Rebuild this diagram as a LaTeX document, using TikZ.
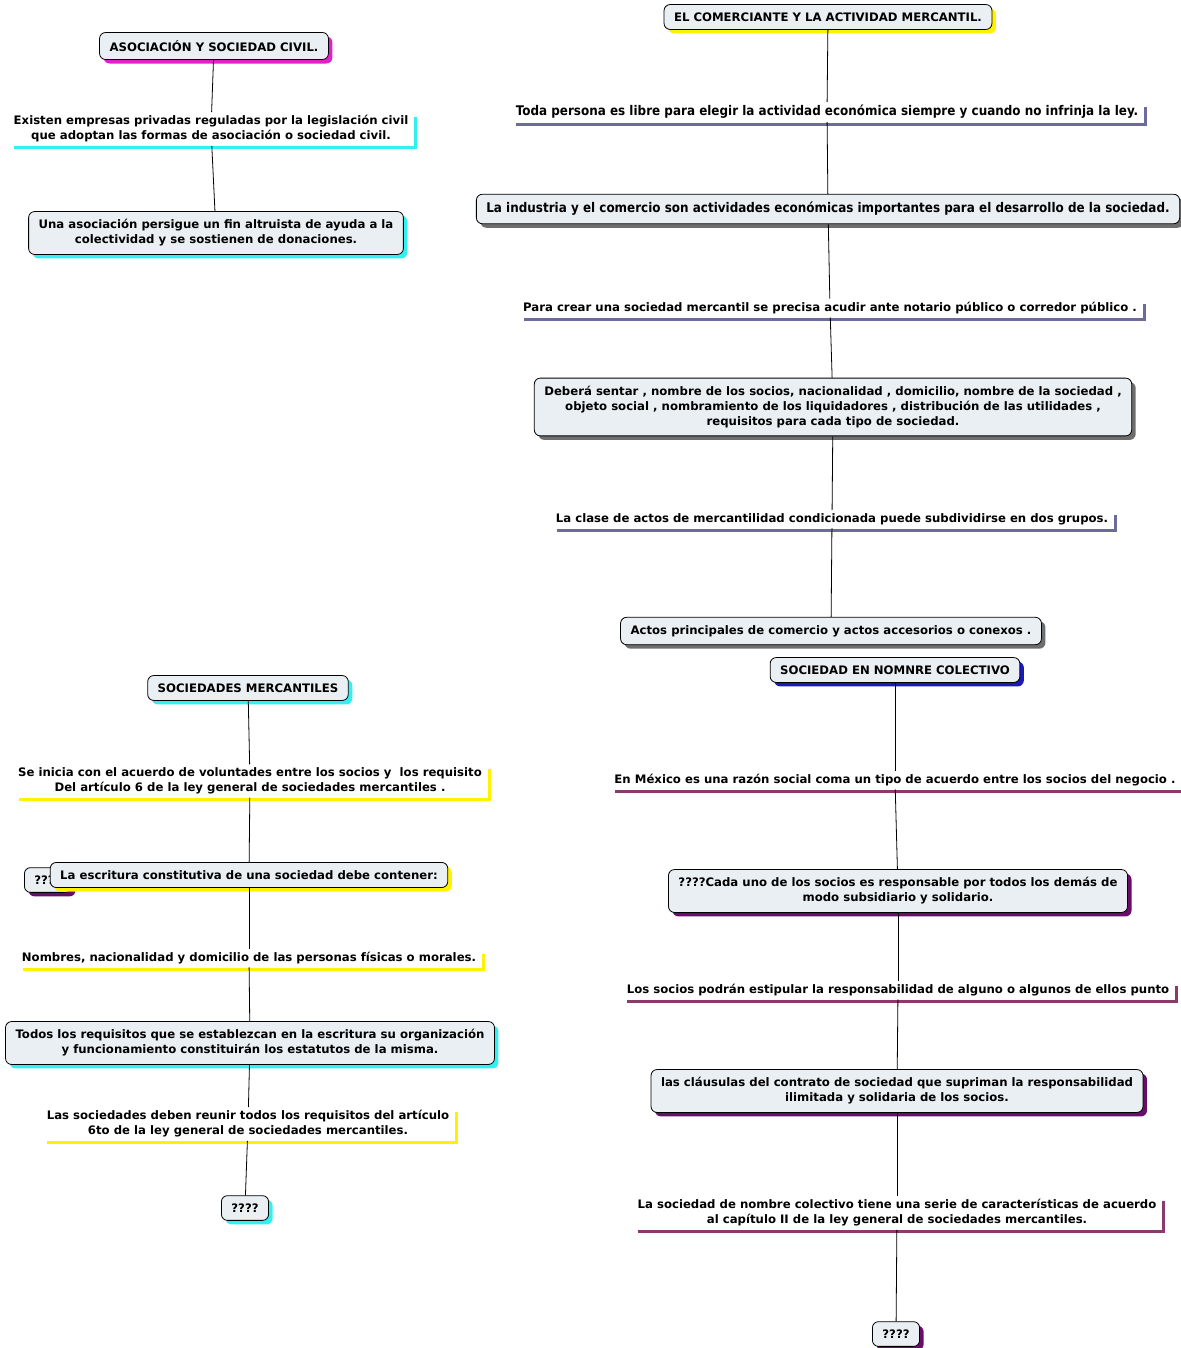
\documentclass[tikz,border=0pt]{standalone}
\usepackage{fontspec}
\setmainfont{DejaVu Sans}
\newfontfamily\narrowfont{DejaVu Sans}[FakeStretch=0.9]
\usepackage{tikz}
\usetikzlibrary{shadows,positioning}

\definecolor{boxfill}{HTML}{E9EFF3}
\definecolor{cyanish}{HTML}{33F0F0}
\definecolor{magentish}{HTML}{E020C8}
\definecolor{yellowish}{HTML}{FFF200}
\definecolor{slate}{HTML}{6B6B9C}
\definecolor{shadowgray}{HTML}{6E6E6E}
\definecolor{royal}{HTML}{1A1AB4}
\definecolor{plum}{HTML}{6A0C6A}
\definecolor{mauve}{HTML}{8C3A6C}

\newcommand{\verd}{\bfseries\fontsize{11.7}{15}\selectfont}
\newcommand{\tah}{\narrowfont\bfseries\fontsize{13.3}{16}\selectfont}
\newcommand{\noteline}[2]{\draw[#2, line width=3pt] ([shift={(4,2)}]#1.south west) -- ([shift={(4,2)}]#1.south east) -- ([shift={(4,5)}]#1.north east);}

\begin{document}
\begin{tikzpicture}[x=1pt,y=-1pt,line width=0.8pt,
  box/.style={draw=black, fill=boxfill, rounded corners=6pt, align=center,
    font=\verd, inner xsep=10pt, inner ysep=8pt,
    drop shadow={shadow xshift=4pt, shadow yshift=-4pt, fill=#1, opacity=1}},
  box/.default=shadowgray,
  note/.style={align=center, font=\verd, inner sep=3pt}]
\useasboundingbox (0,0) rectangle (1180,1348);

% asociacion
\node[box=magentish] (asoc) at (214,46) {ASOCIACIÓN Y SOCIEDAD CIVIL.};
\node[note] (asoc1) at (211,129) {Existen empresas privadas reguladas por la legislación civil\\que adoptan las formas de asociación o sociedad civil.};
\node[box=cyanish] (asoc2) at (216,233) {Una asociación persigue un fin altruista de ayuda a la\\colectividad y se sostienen de donaciones.};
\noteline{asoc1}{cyanish}
\draw (asoc) -- (asoc1);
\draw (asoc1) -- (asoc2);

% comerciante
\node[box=yellowish] (com) at (828,17) {EL COMERCIANTE Y LA ACTIVIDAD MERCANTIL.};
\node[note, font=\tah] (com1) at (827,112) {Toda persona es libre para elegir la actividad económica siempre y cuando no infrinja la ley.};
\node[box, font=\tah] (com2) at (828,209) {La industria y el comercio son actividades económicas importantes para el desarrollo de la sociedad.};
\node[note] (com3) at (830,308) {Para crear una sociedad mercantil se precisa acudir ante notario público o corredor público .};
\node[box] (com4) at (833,407) {Deberá sentar , nombre de los socios, nacionalidad , domicilio, nombre de la sociedad ,\\objeto social , nombramiento de los liquidadores , distribución de las utilidades ,\\requisitos para cada tipo de sociedad.};
\node[note] (com5) at (832,519) {La clase de actos de mercantilidad condicionada puede subdividirse en dos grupos.};
\node[box] (com6) at (831,631) {Actos principales de comercio y actos accesorios o conexos .};
\noteline{com1}{slate}
\noteline{com3}{slate}
\noteline{com5}{slate}
\draw (com) -- (com1);
\draw (com1) -- (com2);
\draw (com2) -- (com3);
\draw (com3) -- (com4);
\draw (com4) -- (com5);
\draw (com5) -- (com6);

% sociedades mercantiles
\node[box=cyanish] (soc) at (248,688) {SOCIEDADES MERCANTILES};
\node[note] (soc1) at (250,781) {Se inicia con el acuerdo de voluntades entre los socios y\ \ los requisito\\Del artículo 6 de la ley general de sociedades mercantiles .};
\node[box=plum] (socq) at (48,880) {????};
\node[box=yellowish] (soc2) at (249,875) {La escritura constitutiva de una sociedad debe contener:};
\node[note] (soc3) at (249,958) {Nombres, nacionalidad y domicilio de las personas físicas o morales.};
\node[box=cyanish] (soc4) at (250,1043) {Todos los requisitos que se establezcan en la escritura su organización\\y funcionamiento constituirán los estatutos de la misma.};
\node[note] (soc5) at (248,1124) {Las sociedades deben reunir todos los requisitos del artículo\\6to de la ley general de sociedades mercantiles.};
\node[box=cyanish] (soc6) at (245,1208) {????};
\noteline{soc1}{yellowish}
\noteline{soc3}{yellowish}
\noteline{soc5}{yellowish}
\draw (soc) -- (soc1);
\draw (soc1) -- (soc2);
\draw (soc2) -- (soc3);
\draw (soc3) -- (soc4);
\draw (soc4) -- (soc5);
\draw (soc5) -- (soc6);

% colectivo
\node[box=royal] (col) at (895,670) {SOCIEDAD EN NOMNRE COLECTIVO};
\node[note] (col1) at (895,780) {En México es una razón social coma un tipo de acuerdo entre los socios del negocio .};
\node[box=plum] (col2) at (898,891) {????Cada uno de los socios es responsable por todos los demás de\\modo subsidiario y solidario.};
\node[note] (col3) at (898,990) {Los socios podrán estipular la responsabilidad de alguno o algunos de ellos punto};
\node[box=plum] (col4) at (897,1091) {las cláusulas del contrato de sociedad que supriman la responsabilidad\\ilimitada y solidaria de los socios.};
\node[note] (col5) at (897,1213) {La sociedad de nombre colectivo tiene una serie de características de acuerdo\\al capítulo II de la ley general de sociedades mercantiles.};
\node[box=plum] (col6) at (896,1334) {????};
\noteline{col1}{mauve}
\noteline{col3}{mauve}
\noteline{col5}{mauve}
\draw (col) -- (col1);
\draw (col1) -- (col2);
\draw (col2) -- (col3);
\draw (col3) -- (col4);
\draw (col4) -- (col5);
\draw (col5) -- (col6);
\end{tikzpicture}
\end{document}
